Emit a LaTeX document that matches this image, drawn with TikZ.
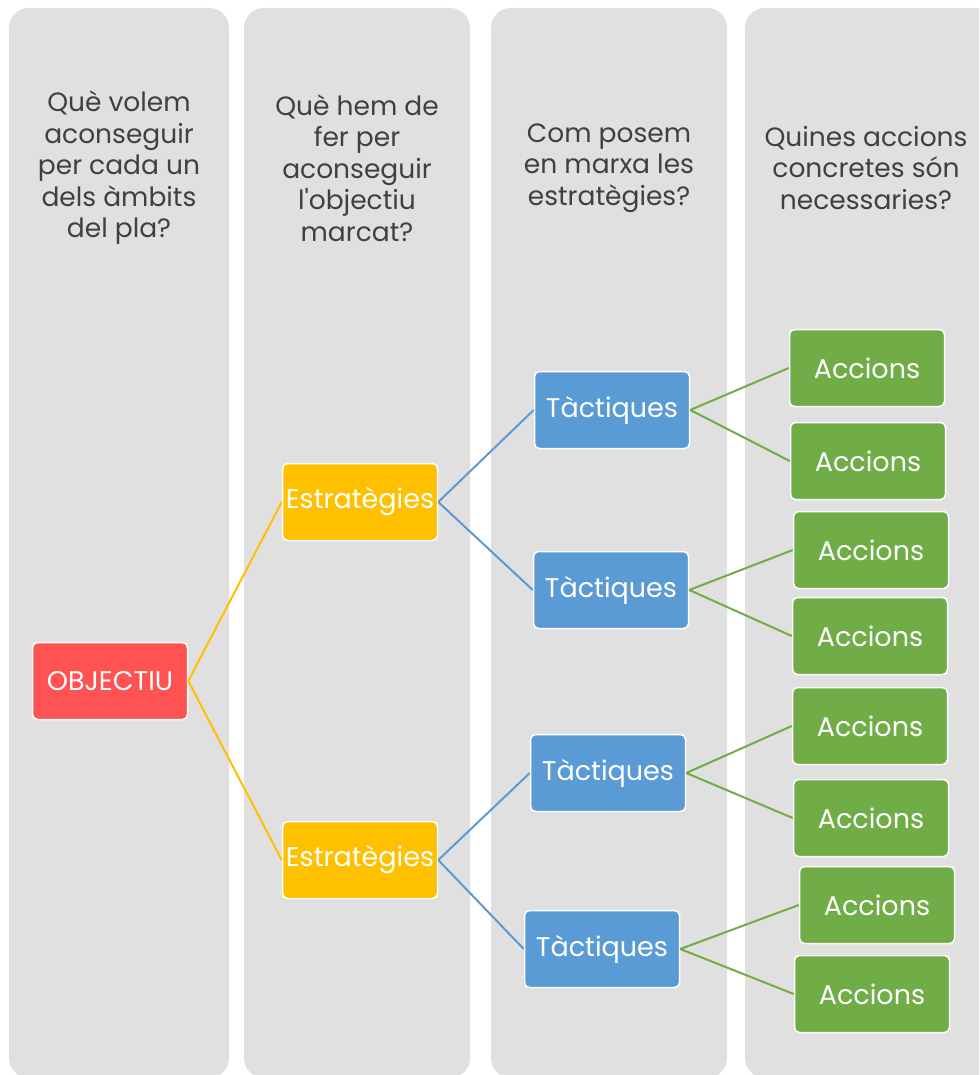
\documentclass[tikz,border=0pt]{standalone}
\usepackage{fontspec}
\newfontfamily\pfont{Poppins}
\definecolor{colbg}{HTML}{E0E0E0}
\definecolor{hdrgray}{HTML}{404040}
\definecolor{cred}{HTML}{FF5252}
\definecolor{cyellow}{HTML}{FFC000}
\definecolor{cblue}{HTML}{5B9BD5}
\definecolor{cgreen}{HTML}{70AD47}
\begin{document}
\begin{tikzpicture}[x=1pt,y=-1pt,
  colfill/.style={fill=colbg, rounded corners=20pt},
  hdr/.style={align=center, text=hdrgray, font=\pfont\fontsize{26.5}{31.5}\selectfont, inner sep=0pt},
  box/.style={rounded corners=5pt, draw=white, line width=1.5pt, minimum width=155pt, minimum height=77pt, text=white, font=\pfont\fontsize{27}{30}\selectfont, inner sep=0pt},
  redbox/.style={box, fill=cred},
  yelbox/.style={box, fill=cyellow},
  bluebox/.style={box, fill=cblue},
  grnbox/.style={box, fill=cgreen},
  ly/.style={draw=cyellow, line width=2pt},
  lb/.style={draw=cblue, line width=2pt},
  lg/.style={draw=cgreen, line width=2pt}]
\useasboundingbox (0,0) rectangle (979,1075);
\clip (0,0) rectangle (979,1075);
\fill[white] (0,0) rectangle (979,1075);
% columns
\path[colfill] (9,8) rectangle (229,1078);
\path[colfill] (244,8) rectangle (470,1078);
\path[colfill] (491,8) rectangle (727,1078);
\path[colfill] (745,8) rectangle (1010,1078);
% headers
\node[hdr] (h1) at (119,168) {Què volem\\aconseguir\\per cada un\\dels àmbits\\del pla?};
\node[hdr] (h2) at (357,168) {Què hem de\\fer per\\aconseguir\\l'objectiu\\marcat?};
\node[hdr] (h3) at (609,168) {Com posem\\en marxa les\\estratègies?};
\node[hdr] (h4) at (866,168) {Quines accions\\concretes són\\necessaries?};
% nodes
\node[redbox] (obj) at (110,681) {OBJECTIU};
\node[yelbox] (e1) at (360,502) {Estratègies};
\node[yelbox] (e2) at (360,860) {Estratègies};
\node[bluebox] (t1) at (612,410) {Tàctiques};
\node[bluebox] (t2) at (611,590) {Tàctiques};
\node[bluebox] (t3) at (608,773) {Tàctiques};
\node[bluebox] (t4) at (602,949) {Tàctiques};
\node[grnbox] (a1) at (867,368) {Accions};
\node[grnbox] (a2) at (868,461) {Accions};
\node[grnbox] (a3) at (871,550) {Accions};
\node[grnbox] (a4) at (870,636) {Accions};
\node[grnbox] (a5) at (870,726) {Accions};
\node[grnbox] (a6) at (871,818) {Accions};
\node[grnbox] (a7) at (877,905) {Accions};
\node[grnbox] (a8) at (872,994) {Accions};
% connectors
\draw[ly] (obj.east) -- (e1.west);
\draw[ly] (obj.east) -- (e2.west);
\draw[lb] (e1.east) -- (t1.west);
\draw[lb] (e1.east) -- (t2.west);
\draw[lb] (e2.east) -- (t3.west);
\draw[lb] (e2.east) -- (t4.west);
\draw[lg] (t1.east) -- (a1.west);
\draw[lg] (t1.east) -- (a2.west);
\draw[lg] (t2.east) -- (a3.west);
\draw[lg] (t2.east) -- (a4.west);
\draw[lg] (t3.east) -- (a5.west);
\draw[lg] (t3.east) -- (a6.west);
\draw[lg] (t4.east) -- (a7.west);
\draw[lg] (t4.east) -- (a8.west);
\end{tikzpicture}
\end{document}
